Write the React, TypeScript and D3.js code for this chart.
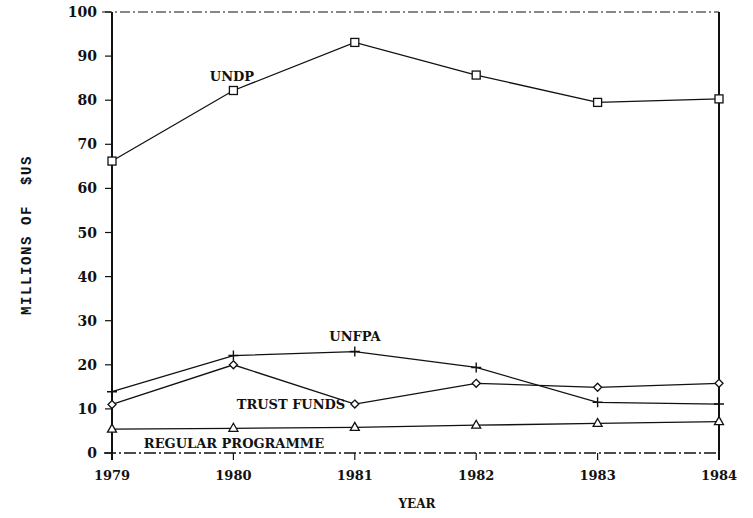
import React from "react";
import * as d3 from "d3";

const years = [1979, 1980, 1981, 1982, 1983, 1984];
const undp = [66.2, 82.2, 93.1, 85.7, 79.5, 80.3];
const unfpa = [13.9, 22.1, 23.0, 19.4, 11.5, 11.1];
const trustFunds = [11.0, 20.0, 11.1, 15.8, 14.9, 15.8];
const regularProgramme = [5.4, 5.6, 5.8, 6.3, 6.7, 7.1];
const yTicks = [0, 10, 20, 30, 40, 50, 60, 70, 80, 90, 100];

const W = 753;
const H = 518;
const left = 112;
const right = 719;
const top = 12;
const bottom = 453;
const FONT = "'DejaVu Serif', serif";
const INK = "#111";

export default function App() {
  const x = d3.scaleLinear().domain([1979, 1984]).range([left, right]);
  const y = d3.scaleLinear().domain([0, 100]).range([bottom, top]);
  const line = d3
    .line<number>()
    .x((_, i) => x(years[i]))
    .y((d) => y(d));

  const square = (cx: number, cy: number, k: string) => (
    <rect key={k} x={cx - 4} y={cy - 4} width={8} height={8} fill="white" stroke={INK} strokeWidth={1.3} />
  );
  const plus = (cx: number, cy: number, k: string) => (
    <path key={k} d={`M${cx - 5},${cy}H${cx + 5}M${cx},${cy - 5}V${cy + 5}`} stroke={INK} strokeWidth={1.4} />
  );
  const diamond = (cx: number, cy: number, k: string) => (
    <path key={k} d={`M${cx},${cy - 4}L${cx + 4},${cy}L${cx},${cy + 4}L${cx - 4},${cy}Z`} fill="white" stroke={INK} strokeWidth={1.3} />
  );
  const triangle = (cx: number, cy: number, k: string) => (
    <path key={k} d={`M${cx},${cy - 5}L${cx + 4.5},${cy + 3}L${cx - 4.5},${cy + 3}Z`} fill="white" stroke={INK} strokeWidth={1.3} />
  );

  const series = [
    { data: undp, marker: square },
    { data: unfpa, marker: plus },
    { data: trustFunds, marker: diamond },
    { data: regularProgramme, marker: triangle },
  ];

  return (
    <svg width={W} height={H} style={{ position: "absolute", left: 0, top: 0, background: "white" }}>
      {/* frame */}
      <line x1={102} x2={right} y1={top} y2={top} stroke={INK} strokeWidth={1.2} strokeDasharray="10 3 2 3" />
      <line x1={104} x2={right} y1={bottom} y2={bottom} stroke={INK} strokeWidth={1.3} strokeDasharray="12 3 2 3" />
      <line x1={left} x2={left} y1={top} y2={bottom + 7} stroke={INK} strokeWidth={2} />
      <line x1={right} x2={right} y1={top} y2={bottom + 7} stroke={INK} strokeWidth={2} />

      {/* y ticks */}
      {yTicks.map((t) => (
        <g key={t}>
          <line x1={105} x2={111} y1={y(t)} y2={y(t)} stroke={INK} strokeWidth={1.2} />
          <text x={97} y={y(t) + 5} textAnchor="end" fontFamily={FONT} fontWeight="bold" fontSize={14} fill={INK}>
            {t}
          </text>
        </g>
      ))}

      {/* x ticks */}
      {years.map((yr) => (
        <g key={yr}>
          <line x1={x(yr)} x2={x(yr)} y1={bottom} y2={bottom + 7} stroke={INK} strokeWidth={1.2} />
          <text x={x(yr)} y={480} textAnchor="middle" fontFamily={FONT} fontWeight="bold" fontSize={13} fill={INK}>
            {yr}
          </text>
        </g>
      ))}

      {/* series */}
      {series.map((s, si) => (
        <g key={si}>
          <path d={line(s.data) || ""} fill="none" stroke={INK} strokeWidth={1.3} />
          {s.data.map((v, i) => s.marker(x(years[i]), y(v), `${si}-${i}`))}
        </g>
      ))}

      {/* series labels */}
      <text x={232} y={81} textAnchor="middle" fontFamily={FONT} fontWeight="bold" fontSize={13} fill={INK}>UNDP</text>
      <text x={355} y={341} textAnchor="middle" fontFamily={FONT} fontWeight="bold" fontSize={13} fill={INK}>UNFPA</text>
      <text x={291} y={409} textAnchor="middle" fontFamily={FONT} fontWeight="bold" fontSize={13} fill={INK}>TRUST FUNDS</text>
      <text x={234} y={448} textAnchor="middle" fontFamily={FONT} fontWeight="bold" fontSize={13} fill={INK}>REGULAR PROGRAMME</text>

      {/* axis titles */}
      <text x={417} y={508} textAnchor="middle" fontFamily={FONT} fontWeight="bold" fontSize={12} fill={INK}>YEAR</text>
      <text
        transform="translate(31,235) rotate(-90)"
        textAnchor="middle"
        fontFamily="'Liberation Mono', monospace"
        fontWeight="bold"
        fontSize={14}
        letterSpacing={1.6}
        fill={INK}
        style={{ whiteSpace: "pre" }}
      >
        MILLIONS OF  $US
      </text>
    </svg>
  );
}
